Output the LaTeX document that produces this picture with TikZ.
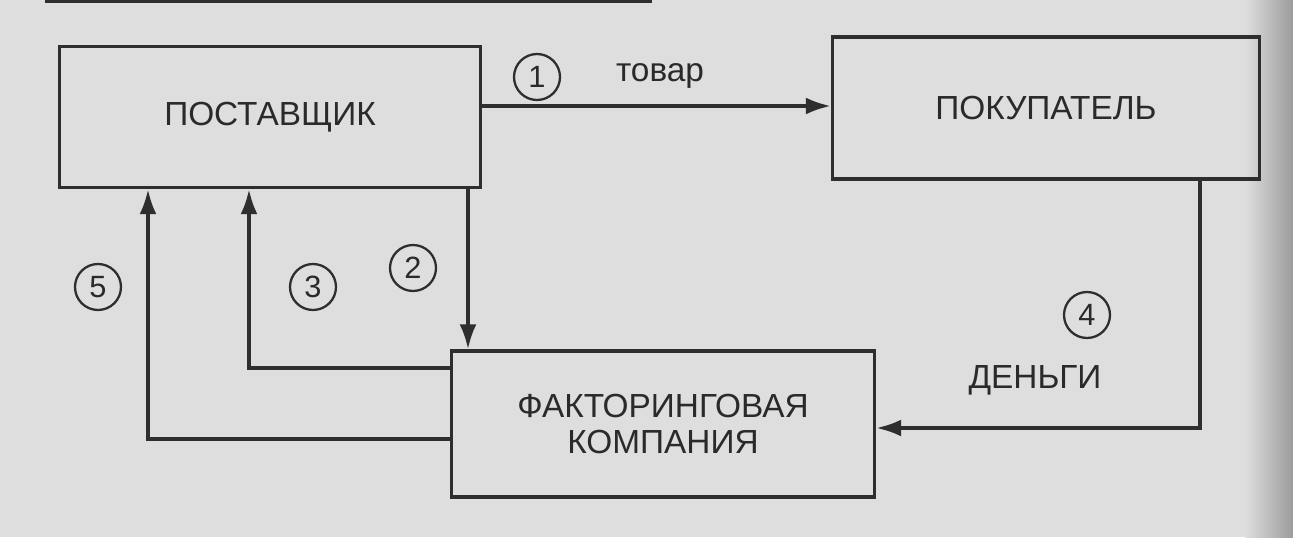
\documentclass[tikz,border=0pt]{standalone}
\usepackage{fontspec}
\setmainfont{Liberation Sans}
\usetikzlibrary{arrows.meta}
\definecolor{FontColor}{HTML}{2A2A2A}
\definecolor{LineColor}{HTML}{2E2E2E}
\definecolor{PaperGray}{HTML}{DEDEDE}
\newcommand\nodesup{ПОСТАВЩИК}
\newcommand\nodebuy{ПОКУПАТЕЛЬ}
\newcommand\nodefac{ФАКТОРИНГОВАЯ\\КОМПАНИЯ}
\newcommand\labgoods{товар}
\newcommand\labmoney{ДЕНЬГИ}
\tikzstyle{mynodestyle} = [rectangle, text=FontColor, font=\fontsize{19}{21}\selectfont, align=center]
\tikzstyle{bx} = [mynodestyle, draw=LineColor, line width=2pt, inner sep=0pt]
\tikzstyle{nr} = [circle, draw=LineColor, line width=1.3pt, text=FontColor, minimum size=0.92cm, inner sep=0pt, font=\fontsize{17.5}{17.5}\selectfont]
\tikzstyle{lb} = [mynodestyle, inner sep=0pt]
\tikzset{>={Latex[length=5mm,width=3.4mm]}, every picture/.style={line width=2pt}}
\begin{document}
\begin{tikzpicture}[x=0.02cm, y=-0.02cm]
\fill[PaperGray] (0,0) rectangle (1293,537);
\shade[left color=PaperGray, right color=PaperGray!70!black] (1245,0) rectangle (1293,537);
\useasboundingbox (0,0) rectangle (1293,537);
\draw[line width=2pt, LineColor] (45,1) -- (652,1);
\node[bx, minimum width=8.42cm, minimum height=2.82cm] (sup) at (270, 117) {\nodesup};
\node[bx, minimum width=8.54cm, minimum height=2.84cm] (buy) at (1046, 108) {\nodebuy};
\node[bx, minimum width=8.46cm, minimum height=2.92cm] (fac) at (663, 424) {\nodefac};
\node[nr] (n1) at (537, 77) {1};
\node[nr] (n2) at (413, 268) {2};
\node[nr] (n3) at (313, 287) {3};
\node[nr] (n4) at (1087, 315) {4};
\node[nr] (n5) at (98, 287) {5};
\node[lb, anchor=base] (goods) at (660, 82) {\labgoods};
\node[lb, anchor=base] (money) at (1035, 388) {\labmoney};
\draw [->, LineColor] (sup.east |- 0,106) -- (buy.west |- 0,106);
\draw [->, LineColor] (sup.south -| 468,0) -- (fac.north -| 468,0);
\draw [->, LineColor] (fac.west |- 0,368) -| (sup.south -| 249,0);
\draw [->, LineColor] (fac.west |- 0,439) -| (sup.south -| 148,0);
\draw [->, LineColor] (buy.south -| 1200,0) |- (fac.east |- 0,428);
\end{tikzpicture}
\end{document}
